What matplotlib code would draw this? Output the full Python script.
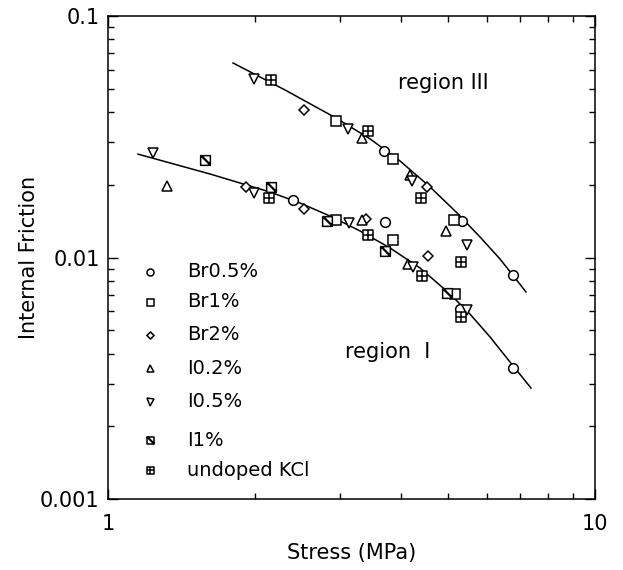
import numpy as np
import matplotlib
matplotlib.use("Agg")
from matplotlib import pyplot as plt
from matplotlib.path import Path
from matplotlib.ticker import FixedLocator, FixedFormatter, LogLocator, NullFormatter

# data (stress in MPa, internal friction)
br05_x = [3.69, 5.33, 6.79, 2.40, 3.71, 5.28, 6.79]
br05_y = [0.0276, 0.0142, 0.00846, 0.0173, 0.0140, 0.00612, 0.00349]

br1_x = [2.94, 3.85, 5.13, 2.94, 3.85, 5.16]
br1_y = [0.0367, 0.0256, 0.0143, 0.0143, 0.0118, 0.00706]

br2_x = [2.53, 4.52, 1.92, 2.53, 3.39, 4.54]
br2_y = [0.0408, 0.0196, 0.0196, 0.0159, 0.0144, 0.01014]

i02_x = [3.32, 4.17, 4.94, 1.32, 3.32, 4.13]
i02_y = [0.0312, 0.0220, 0.0129, 0.0198, 0.0143, 0.0094]

i05_x = [1.99, 3.11, 4.21, 5.46, 1.24, 1.99, 3.13, 4.23, 5.46]
i05_y = [0.0548, 0.0340, 0.0207, 0.01127, 0.0271, 0.0185, 0.0139, 0.00913, 0.00606]

i1_x = [1.58, 2.16, 2.82, 3.71, 4.97]
i1_y = [0.0253, 0.0196, 0.0142, 0.01064, 0.00713]

undoped_x = [2.16, 3.42, 4.39, 5.31, 2.14, 3.42, 4.41, 5.31]
undoped_y = [0.0543, 0.0334, 0.0176, 0.00958, 0.0176, 0.0124, 0.00838, 0.00567]

# guide curves
curve3_x = [1.806, 2.309, 2.939, 3.451, 3.978, 4.584, 5.208, 5.806, 6.381, 6.85, 7.215]
curve3_y = [0.0639, 0.0494, 0.0378, 0.0310, 0.0251, 0.0196, 0.0153, 0.01216, 0.00986, 0.00823, 0.0072]

curve1_x = [1.152, 1.620, 2.151, 2.479, 2.857, 3.292, 3.794, 4.372, 5.039, 5.538, 6.087, 6.692, 7.389]
curve1_y = [0.0268, 0.02217, 0.01867, 0.01681, 0.01485, 0.01288, 0.01095, 0.00905, 0.00706,
            0.00583, 0.00469, 0.00369, 0.00288]

labels = ["Br0.5%", "Br1%", "Br2%", "I0.2%", "I0.5%", "I1%", "undoped KCl"]

# custom markers: square with (thick) diagonal, square with cross
M, L, C = Path.MOVETO, Path.LINETO, Path.CLOSEPOLY
sq_diag = Path([(-1, -1), (1, -1), (1, 1), (-1, 1), (-1, -1),
                (-1, 1), (1, -1), (-0.8, 1), (1, -0.8)],
               [M, L, L, L, C, M, L, M, L])
sq_cross = Path([(-1, -1), (1, -1), (1, 1), (-1, 1), (-1, -1), (-1, 0), (1, 0), (0, -1), (0, 1)],
                [M, L, L, L, C, M, L, M, L])

series = [
    (br05_x, br05_y, "o", 7),
    (br1_x, br1_y, "s", 7),
    (br2_x, br2_y, "D", 5),
    (i02_x, i02_y, "^", 7),
    (i05_x, i05_y, "v", 7),
    (i1_x, i1_y, sq_diag, 7),
    (undoped_x, undoped_y, sq_cross, 7),
]

fig = plt.figure(figsize=(6.23, 5.70), dpi=100)
ax = fig.add_axes([108 / 623, 1 - 499 / 570, 487 / 623, 483 / 570])
ax.set_xscale("log")
ax.set_yscale("log")
ax.set_xlim(1, 10)
ax.set_ylim(0.001, 0.1)

ax.plot(curve3_x, curve3_y, color="black", lw=1.1, zorder=2)
ax.plot(curve1_x, curve1_y, color="black", lw=1.1, zorder=2)

for xs, ys, mk, ms in series:
    ax.plot(xs, ys, linestyle="none", marker=mk, markersize=ms, markerfacecolor="white",
            markeredgecolor="black", markeredgewidth=1.1, zorder=3)

# legend drawn by hand
leg_y = [0.470, 0.408, 0.340, 0.271, 0.201, 0.122, 0.060]
for (xs, ys, mk, ms), lab, yy in zip(series, labels, leg_y):
    ax.plot([0.0862], [yy], transform=ax.transAxes, linestyle="none", marker=mk,
            markersize=ms * 0.72, markerfacecolor="white", markeredgecolor="black",
            markeredgewidth=1.1, clip_on=False)
    ax.text(0.163, yy, lab, transform=ax.transAxes, fontsize=14, va="center", ha="left")

ax.text(0.5955, 0.861, "region III", transform=ax.transAxes, fontsize=15, va="center", ha="left")
ax.text(0.4867, 0.304, "region  I", transform=ax.transAxes, fontsize=15, va="center", ha="left")

ax.xaxis.set_major_locator(FixedLocator([1, 10]))
ax.xaxis.set_major_formatter(FixedFormatter(["1", "10"]))
ax.yaxis.set_major_locator(FixedLocator([0.001, 0.01, 0.1]))
ax.yaxis.set_major_formatter(FixedFormatter(["0.001", "0.01", "0.1"]))
ax.xaxis.set_minor_locator(LogLocator(base=10, subs=np.arange(2, 10)))
ax.yaxis.set_minor_locator(LogLocator(base=10, subs=np.arange(2, 10)))
ax.xaxis.set_minor_formatter(NullFormatter())
ax.yaxis.set_minor_formatter(NullFormatter())

ax.tick_params(which="both", direction="in", top=True, right=True, width=1.0, labelsize=15)
ax.tick_params(which="major", length=7)
ax.tick_params(which="minor", length=4)
ax.tick_params(axis="x", pad=11)
ax.tick_params(axis="y", pad=6)
for sp in ax.spines.values():
    sp.set_linewidth(1.1)

ax.set_xlabel("Stress (MPa)", fontsize=15, labelpad=6)
ax.set_ylabel("Internal Friction", fontsize=15, labelpad=1)

fig.savefig("out.png", dpi=100)
